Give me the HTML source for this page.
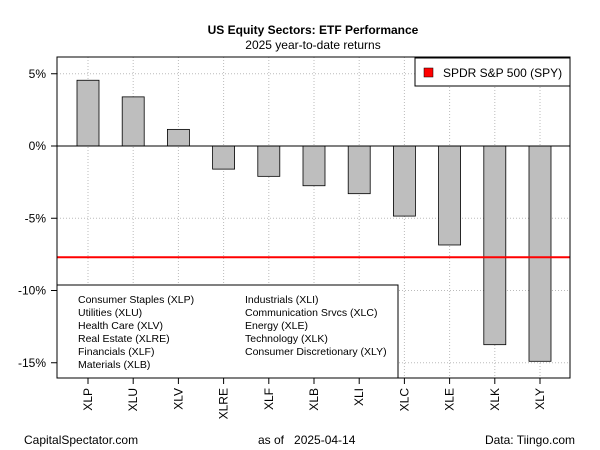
<!DOCTYPE html>
<html><head><meta charset="utf-8"><style>
body{margin:0;background:#fff;}
svg{display:block;font-family:"Liberation Sans",sans-serif;}
</style></head><body>
<svg id="c" width="600" height="450">
<text x="313" y="34" text-anchor="middle" font-size="12" font-weight="bold">US Equity Sectors: ETF Performance</text>
<text x="313" y="49" text-anchor="middle" font-size="12">2025 year-to-date returns</text>
<g id="grid"></g>
<g id="bars"></g>
<g id="axes"></g>
<rect x="57" y="57" width="513" height="321" fill="none" stroke="#000"/>
<g>
<rect x="415" y="58" width="155" height="28" fill="#fff" stroke="#000"/>
<rect x="424" y="68" width="9" height="9" fill="#f00" stroke="#000" stroke-width="0.5"/>
<text x="443" y="77" font-size="12">SPDR S&amp;P 500 (SPY)</text>
</g>
<g font-size="10.5">
<rect x="57" y="285" width="341" height="93" fill="#fff" stroke="#000"/>
<text x="78" y="303">Consumer Staples (XLP)</text>
<text x="78" y="316">Utilities (XLU)</text>
<text x="78" y="329">Health Care (XLV)</text>
<text x="78" y="342">Real Estate (XLRE)</text>
<text x="78" y="355">Financials (XLF)</text>
<text x="78" y="368">Materials (XLB)</text>
<text x="245" y="303">Industrials (XLI)</text>
<text x="245" y="316">Communication Srvcs (XLC)</text>
<text x="245" y="329">Energy (XLE)</text>
<text x="245" y="342">Technology (XLK)</text>
<text x="245" y="355">Consumer Discretionary (XLY)</text>
</g>
<text x="24" y="444" font-size="12">CapitalSpectator.com</text>
<text x="258" y="444" font-size="12" xml:space="preserve" style="white-space:pre">as of   2025-04-14</text>
<text x="575" y="444" text-anchor="end" font-size="12">Data: Tiingo.com</text>
</svg>
<script>
const categories=["XLP","XLU","XLV","XLRE","XLF","XLB","XLI","XLC","XLE","XLK","XLY"];
const returns=[4.55,3.4,1.15,-1.6,-2.1,-2.75,-3.3,-4.85,-6.85,-13.75,-14.9];
const spy=[-7.7];
const yTicks=[5,0,-5,-10,-15];
const yTickLabels=["5%","0%","-5%","-10%","-15%"];
const NS="http://www.w3.org/2000/svg";
const y=v=>146-v*14.45;
const x=i=>88+i*45.2;
function mk(t,a,p){const e=document.createElementNS(NS,t);for(const k in a)e.setAttribute(k,a[k]);p.appendChild(e);return e;}
const g=document.getElementById('grid'),b=document.getElementById('bars'),ax=document.getElementById('axes');
yTicks.forEach((v,i)=>{
 const l=mk('line',{x1:57,x2:570,y1:y(v),y2:y(v),stroke:'#bbb','stroke-dasharray':'1,2'},g);
 
 
 const t=mk('line',{x1:51,x2:57,y1:y(v),y2:y(v),stroke:'#000'},ax);
 
 
 const tx=mk('text',{x:46,y:y(v)+4,'text-anchor':'end','font-size':12},ax);
 tx.textContent=yTickLabels[i];
 
 
});
categories.forEach((c,i)=>{
 const l=mk('line',{x1:x(i),x2:x(i),y1:57,y2:378,stroke:'#bbb','stroke-dasharray':'1,2'},g);
 
 
 const v=returns[i];
 const r=mk('rect',{x:x(i)-11,y:Math.min(y(0),y(v)),width:22,height:Math.abs(y(v)-y(0)),fill:'#bebebe',stroke:'#000','stroke-width':0.8},b);
 
 
 const t=mk('line',{x1:x(i),x2:x(i),y1:378,y2:384,stroke:'#000'},ax);
 
 
 const tx=mk('text',{x:x(i)+4,y:388,'text-anchor':'end','font-size':12,transform:`rotate(-90 ${x(i)+4} 388)`},ax);
 tx.textContent=c;
 
 
});
const z=mk('line',{x1:57,x2:570,y1:y(0),y2:y(0),stroke:'#000'},b);


const s=mk('line',{x1:57,x2:570,y1:y(spy[0]),y2:y(spy[0]),stroke:'#f00','stroke-width':2},b);


</script>
</body></html>
